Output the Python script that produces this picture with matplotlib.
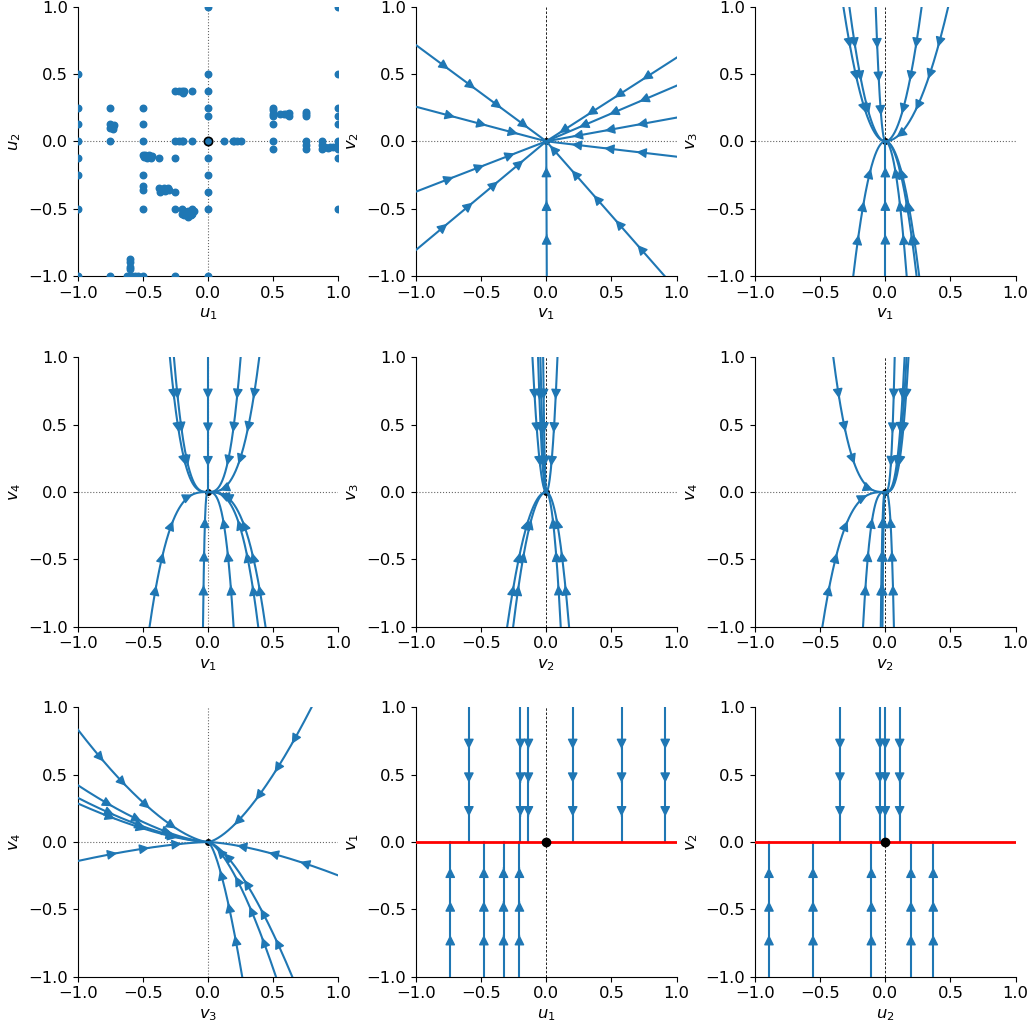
import numpy as np
import matplotlib
matplotlib.use('Agg')
import matplotlib.pyplot as plt
from matplotlib.patches import FancyArrowPatch

plt.rcParams['font.size'] = 11.8

# panel 1: sampled points of the (u1, u2) set
grid_u1 = [-1, -1, -1, -1, -1, -1, -1, -1,
           -0.75, -0.75, -0.74, -0.73, -0.72, -0.75, -0.73, -0.75, -0.75,
           -0.5, -0.5, -0.5, -0.5, -0.5, -0.5, -0.5, -0.5, -0.5,
           -0.49, -0.48, -0.47, -0.46, -0.45, -0.44, -0.43,
           -0.375, -0.375, -0.37, -0.35, -0.34, -0.33, -0.31, -0.3,
           -0.25, -0.25, -0.25, -0.25, -0.25, -0.25,
           -0.22, -0.2, -0.19, -0.18, -0.125,
           -0.22, -0.2, -0.19, -0.125,
           -0.2, -0.125, -0.18, -0.15, -0.12, -0.18, -0.15, -0.13, -0.2, -0.11,
           -0.6, -0.6, -0.6, -0.6, -0.625, -0.6, -0.58, -0.56, -0.54,
           0, 0, 0, 0, 0, 0, 0, 0, 0, 0,
           0.125, 0.19, 0.2, 0.22, 0.25,
           0.5, 0.5, 0.5, 0.5, 0.5, 0.5, 0.5,
           0.55, 0.58, 0.6, 0.62, 0.625,
           0.75, 0.75, 0.75, 0.75, 0.75, 0.75,
           0.875, 0.875, 0.9, 0.92, 0.94, 0.96, 0.875,
           1, 1, 1, 1, 1, 1, 1, 1, 1, 1]
grid_u2 = [0.5, 0.25, 0.125, 0, -0.125, -0.25, -0.5, -1,
           0.25, 0.125, 0.115, 0.11, 0.12, 0.1, 0.095, 0, -1,
           0.25, 0.125, 0, -0.1, -0.25, -0.33, -0.36, -0.5, -1,
           -0.12, -0.1, -0.125, -0.11, -0.1, -0.125, -0.11,
           -0.125, -0.35, -0.375, -0.36, -0.35, -0.37, -0.35, -0.36,
           0.375, 0, -0.125, -0.375, -0.5, -1,
           0.375, 0.37, 0.36, 0.375, 0.375,
           0, 0, 0, 0,
           -0.5, -0.5, -0.52, -0.52, -0.54, -0.55, -0.56, -0.55, -0.54, -0.52,
           -0.875, -0.9, -0.93, -0.95, -1, -1, -1, -1, -1,
           1, 0.5, 0.375, 0.25, 0.19, -0.125, -0.25, -0.375, -0.5, -1,
           0, 0, 0, 0, 0,
           0.25, 0.23, 0.2, 0.19, 0.125, 0, -0.06,
           0.2, 0.2, 0.2, 0.21, 0.19,
           0.22, 0.2, 0.19, 0, -0.03, -0.06,
           -0.03, -0.06, -0.04, -0.05, -0.04, -0.04, 0,
           1, 0.5, 0.25, 0.19, 0.125, 0, -0.03, -0.06, -0.125, -0.5]

# decay rates of each coordinate (u stays fixed)
rate = {'u1': 0, 'u2': 0, 'v1': 1, 'v2': 1, 'v3': 2, 'v4': 3}

# where each trajectory enters the plotting window
v1v2_x = [-1, -1, -1, -1, 0.004, 0.908, 1, 1, 1, 1]
v1v2_y = [0.715, 0.257, -0.374, -0.807, -1, -1, -0.114, 0.176, 0.413, 0.621]

v1v3_x = [-0.322, -0.276, -0.074, 0.279, 0.483, -0.246, 0.0, 0.164, 0.24, 0.26]
v1v3_y = [1, 1, 1, 1, 1, -1, -1, -1, -1, -1]

v1v4_x = [-0.292, -0.261, 0.0, 0.251, 0.394, -0.448, -0.038, 0.197, 0.386, 0.442]
v1v4_y = [1, 1, 1, 1, 1, -1, -1, -1, -1, -1]

v2v3_x = [-0.106, -0.063, -0.045, -0.024, 0.086, -0.30, -0.254, 0.111, 0.175]
v2v3_y = [1, 1, 1, 1, 1, -1, -1, -1, -1]

v2v4_x = [-0.399, 0.072, 0.148, 0.163, 0.178, -0.483, -0.171, -0.035, -0.022, 0.066]
v2v4_y = [1, 1, 1, 1, 1, -1, -1, -1, -1, -1]

v3v4_x = [-1, -1, -1, -1, -1, 0.795, 1, 0.263, 0.522, 0.647]
v3v4_y = [0.837, 0.423, 0.329, 0.287, -0.141, 1, -0.248, -1, -1, -1]

u1v1_x = [-0.594, -0.198, -0.137, 0.203, 0.578, 0.913, -0.737, -0.479, -0.328, -0.206]
u1v1_y = [1, 1, 1, 1, 1, 1, -1, -1, -1, -1]

u2v2_x = [-0.348, -0.041, 0.0, 0.110, -0.893, -0.555, -0.107, 0.197, 0.368]
u2v2_y = [1, 1, 1, 1, -1, -1, -1, -1, -1]

panels = [
    ('v1', 'v2', v1v2_x, v1v2_y),
    ('v1', 'v3', v1v3_x, v1v3_y),
    ('v1', 'v4', v1v4_x, v1v4_y),
    ('v2', 'v3', v2v3_x, v2v3_y),
    ('v2', 'v4', v2v4_x, v2v4_y),
    ('v3', 'v4', v3v4_x, v3v4_y),
    ('u1', 'v1', u1v1_x, u1v1_y),
    ('u2', 'v2', u2v2_x, u2v2_y),
]


def draw_flow(ax, xs, ys, rx, ry):
    s = np.linspace(1, 0, 800)
    for x0, y0 in zip(xs, ys):
        x = x0 * s**rx
        y = y0 * s**ry
        ax.plot(x, y, color='C0', lw=1.5, zorder=3)
        d = np.concatenate([[0], np.cumsum(np.hypot(np.diff(x), np.diff(y)))])
        k = 1
        while 0.25*k + 0.06 < d[-1] - 0.04:
            i = np.searchsorted(d, 0.25*k + 0.06)
            ax.add_patch(FancyArrowPatch((x[i-1], y[i-1]), (x[i], y[i]),
                                         arrowstyle='-|>', mutation_scale=15,
                                         color='C0', lw=1, zorder=3))
            k += 1


def tex(name):
    return r'$%s_%s$' % (name[0], name[1])


fig = plt.figure(figsize=(10.34, 10.27), dpi=100)
lefts = [0.0751, 0.4023, 0.7302]
bottoms = [0.7313, 0.3898, 0.0490]
w, h = 0.2520, 0.2622
axes = []
for r in range(3):
    for c in range(3):
        axes.append(fig.add_axes([lefts[c], bottoms[r], w, h]))

for n, ax in enumerate(axes):
    ax.set_xlim(-1, 1)
    ax.set_ylim(-1, 1)
    ax.set_xticks([-1, -0.5, 0, 0.5, 1])
    ax.set_yticks([-1, -0.5, 0, 0.5, 1])
    ax.spines['top'].set_visible(False)
    ax.spines['right'].set_visible(False)
    ax.axhline(0, color='k', ls=':', lw=0.8, alpha=0.6, zorder=1)
    if n in (0, 3, 6):
        ax.axvline(0, color='k', ls=':', lw=0.8, alpha=0.6, zorder=1)
    else:
        ax.axvline(0, color='k', ls='--', lw=0.6, dashes=(3, 2), zorder=1)

ax = axes[0]
ax.scatter(grid_u1, grid_u2, s=22, color='C0', zorder=3)
ax.plot(0, 0, 'o', mfc='C0', mec='k', ms=6, mew=1.2, zorder=4)
ax.set_xlabel(tex('u1'))
ax.set_ylabel(tex('u2'))

for ax, (xn, yn, xs, ys) in zip(axes[1:], panels):
    if xn.startswith('u'):
        ax.axhline(0, color='red', lw=2, zorder=4)
        ax.plot(0, 0, 'ko', ms=6, zorder=5)
    else:
        ax.plot(0, 0, 'ko', ms=4, zorder=2)
    draw_flow(ax, xs, ys, rate[xn], rate[yn])
    ax.set_xlabel(tex(xn))
    ax.set_ylabel(tex(yn))

fig.savefig('out.png', dpi=100)
